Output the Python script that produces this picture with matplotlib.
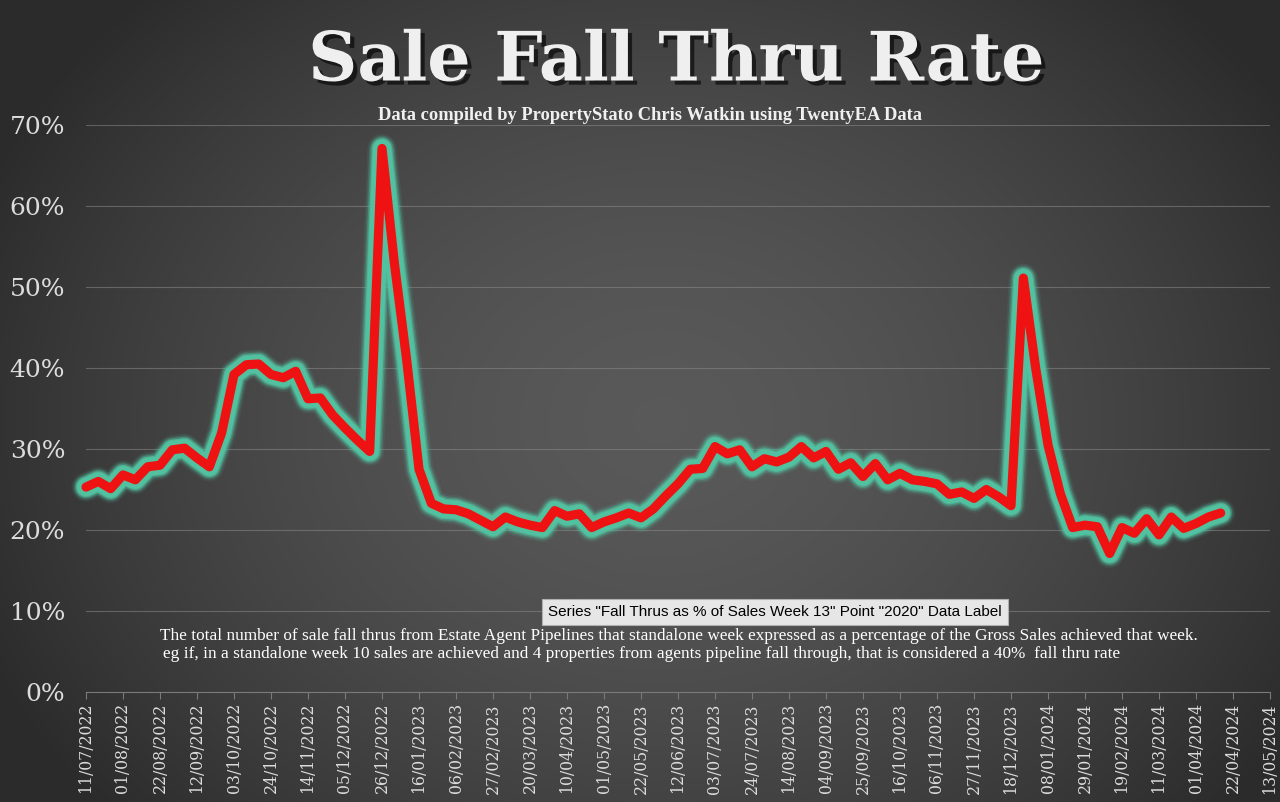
import numpy as np
import pandas as pd
import matplotlib
matplotlib.use("Agg")
import matplotlib.pyplot as plt
from matplotlib import dates as mdates
from matplotlib import patheffects as pe
from matplotlib.ticker import FuncFormatter, MultipleLocator

# weekly fall thru rate (%), first week 11/07/2022
startDate = "2022-07-11"
fallThruRate = [
    25.3, 26.0, 25.1, 26.8, 26.2, 27.8, 28.0, 29.9, 30.1, 28.9,
    27.8, 32.0, 39.2, 40.4, 40.5, 39.2, 38.8, 39.6, 36.2, 36.3,
    34.2, 32.6, 31.1, 29.7, 67.1, 53.0, 41.0, 27.5, 23.3, 22.6,
    22.5, 22.0, 21.2, 20.4, 21.6, 21.0, 20.6, 20.3, 22.4, 21.7,
    22.0, 20.3, 21.0, 21.5, 22.1, 21.5, 22.6, 24.2, 25.7, 27.5,
    27.6, 30.3, 29.4, 29.9, 27.8, 28.8, 28.4, 29.0, 30.3, 28.9,
    29.7, 27.5, 28.3, 26.6, 28.2, 26.2, 27.0, 26.2, 26.0, 25.7,
    24.4, 24.7, 23.9, 25.0, 24.1, 23.0, 51.1, 40.0, 30.5, 24.5,
    20.3, 20.6, 20.4, 17.1, 20.3, 19.6, 21.4, 19.4, 21.6, 20.2,
    20.8, 21.6, 22.1,
]
axisStart = "2022-07-11"
axisEnd = "2024-05-13"
tickStepDays = 21

title = "Sale Fall Thru Rate"
subTitle = "Data compiled by PropertyStato Chris Watkin using TwentyEA Data"
tooltip = 'Series "Fall Thrus as % of Sales Week 13" Point "2020" Data Label'
note1 = ("The total number of sale fall thrus from Estate Agent Pipelines that standalone week "
         "expressed as a percentage of the Gross Sales achieved that week.")
note2 = ("eg if, in a standalone week 10 sales are achieved and 4 properties from agents pipeline "
         "fall through, that is considered a 40%  fall thru rate")


def background(fig):
    bg = fig.add_axes([0, 0, 1, 1], zorder=0)
    yy, xx = np.mgrid[0:802, 0:1280]
    r = np.sqrt(((xx - 660) / 760.0) ** 2 + ((yy - 420) / 620.0) ** 2)
    shade = np.clip(0.35 - 0.19 * r ** 1.6, 0.17, 0.35)
    img = np.dstack([shade, shade, shade])
    bg.imshow(img, aspect="auto", interpolation="bilinear")
    bg.axis("off")


def main():
    fig = plt.figure(figsize=(12.8, 8.02), dpi=100)
    background(fig)

    ax = fig.add_axes([86 / 1280, 1 - 692 / 802, 1184 / 1280, 567 / 802], zorder=1)
    ax.patch.set_alpha(0)

    dates = pd.date_range(startDate, periods=len(fallThruRate), freq="7D")
    values = np.array(fallThruRate) / 100.0

    # teal glow under the red line
    for lw, a in [(21, 0.10), (18.5, 0.2), (16.5, 0.4), (14.5, 0.7), (13, 1.0)]:
        ax.plot(dates, values, color="#52c1a0", lw=lw, alpha=a,
                solid_joinstyle="round", solid_capstyle="round", clip_on=False)
    ax.plot(dates, values, color="#ee1212", lw=6.6,
            solid_joinstyle="round", solid_capstyle="round", clip_on=False)

    ax.set_ylim(0, 0.70)
    ax.set_xlim(pd.Timestamp(axisStart), pd.Timestamp(axisEnd))
    ax.yaxis.set_major_locator(MultipleLocator(0.1))
    ax.yaxis.set_major_formatter(FuncFormatter(lambda v, p: "%d%%" % round(v * 100)))
    ticks = pd.date_range(axisStart, axisEnd, freq="%dD" % tickStepDays)
    ax.set_xticks(ticks)
    ax.xaxis.set_major_formatter(mdates.DateFormatter("%d/%m/%Y"))

    ax.grid(axis="y", color="#8a8a8a", lw=0.8, alpha=0.55)
    ax.set_axisbelow(True)
    for s in ["top", "right", "left"]:
        ax.spines[s].set_visible(False)
    ax.spines["bottom"].set_color("#7a7a7a")
    ax.tick_params(axis="y", length=0, pad=15, labelcolor="#dcdcdc", labelsize=18)
    ax.tick_params(axis="x", direction="out", length=5, color="#7a7a7a",
                   labelcolor="#dcdcdc", labelsize=11.3, pad=3)
    for lab in ax.get_yticklabels():
        lab.set_family("DejaVu Serif")
    for lab in ax.get_xticklabels():
        lab.set_family("DejaVu Serif")
        lab.set_rotation(90)

    fig.text(676 / 1280, 1 - 62 / 802, title, ha="center", va="center",
             family="DejaVu Serif", weight="bold", fontsize=49, color="#efefef",
             path_effects=[pe.withSimplePatchShadow(offset=(3, -3), shadow_rgbFace="black", alpha=0.6)])
    fig.text(650 / 1280, 1 - 115 / 802, subTitle, ha="center", va="center",
             family="Liberation Serif", weight="bold", fontsize=13.3, color="#f0f0f0")

    fig.text(548 / 1280, 1 - 612 / 802, tooltip, ha="left", va="center",
             family="Liberation Sans", fontsize=11, color="black",
             bbox=dict(boxstyle="square,pad=0.4", facecolor="#e6e6e6", edgecolor="#b0b0b0", lw=0.8))

    fig.text(160 / 1280, 1 - 636 / 802, note1, ha="left", va="center",
             family="Liberation Serif", fontsize=12.4, color="white")
    fig.text(163 / 1280, 1 - 654 / 802, note2, ha="left", va="center",
             family="Liberation Serif", fontsize=12.4, color="white")

    fig.savefig("out.png", dpi=100)


if __name__ == "__main__":
    main()
